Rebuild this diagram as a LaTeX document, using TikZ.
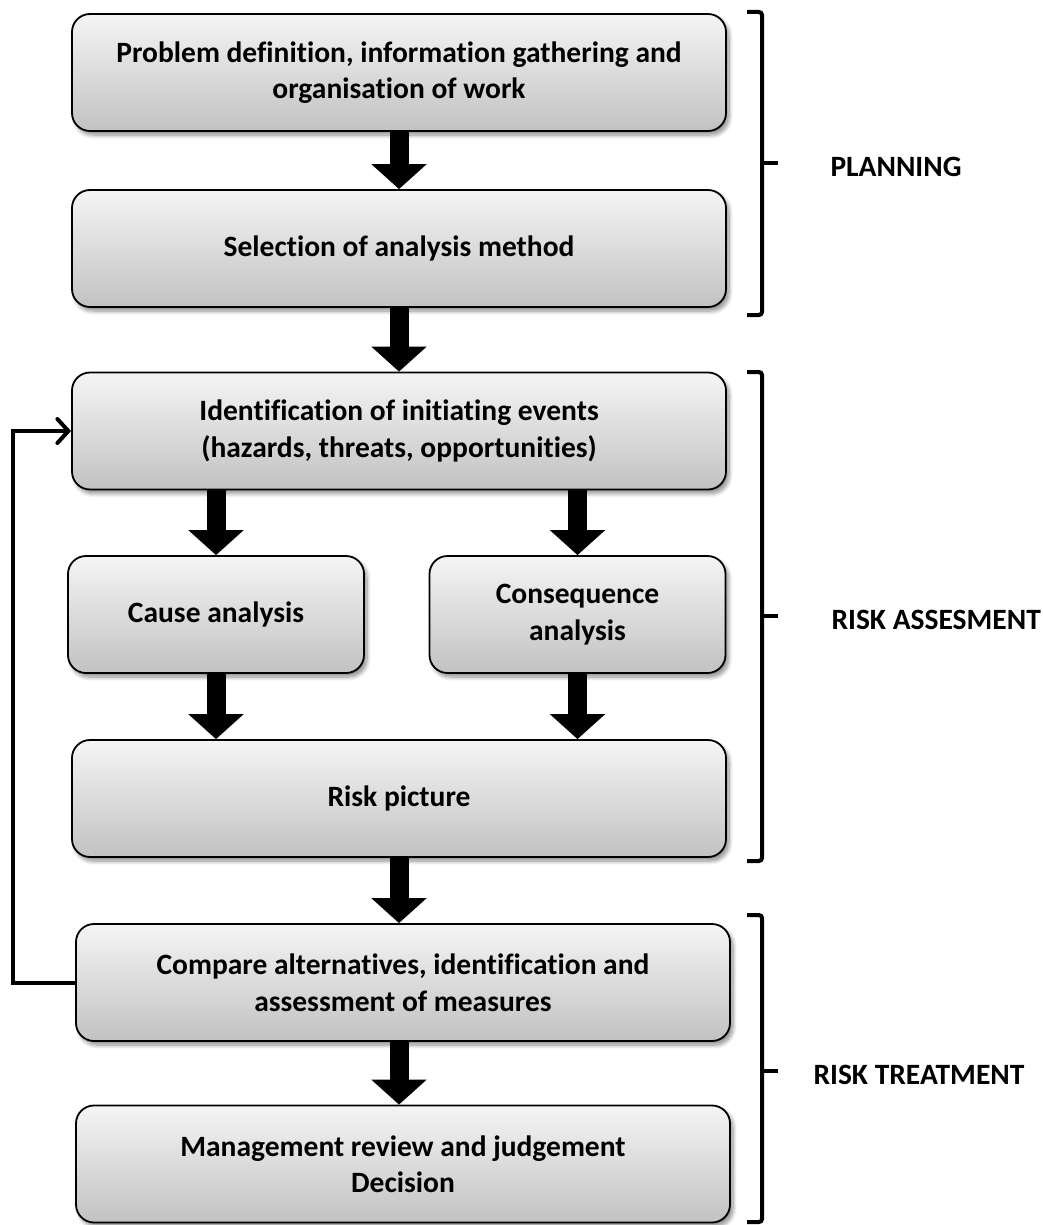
\documentclass[tikz,border=0pt]{standalone}
\usepackage{fontspec}
\setmainfont{Carlito}[Ligatures={NoCommon}]
\usetikzlibrary{arrows.meta,shadows.blur}

\tikzset{
  stage/.style={
    draw=black, line width=1.8pt, rounded corners=18pt,
    top color=gray!8, bottom color=black!24,
    minimum height=117pt, inner sep=4pt,
    align=center,
    font=\fontsize{29.5}{36.5}\selectfont\bfseries,
    blur shadow={shadow xshift=3pt, shadow yshift=-4pt,
                 shadow blur radius=4pt, shadow blur steps=8,
                 shadow opacity=45}
  },
  wide/.style={stage, minimum width=654pt},
  narrow/.style={stage, minimum width=296pt},
  flowarrow/.style={line width=19pt,
    -{Triangle[width=54pt,length=25pt]}},
  loopline/.style={line width=4pt,
    -{Straight Barb[length=11pt,width=24pt,line cap=round]}},
  bracket/.style={line width=4pt, rounded corners=3pt},
  phase/.style={anchor=west, font=\fontsize{29.5}{36}\selectfont\bfseries}
}

\begin{document}
\begin{tikzpicture}[x=1pt, y=-1pt]
\useasboundingbox (0,0) rectangle (1042,1225);

% process stages
\node[wide]   (prob)  at (399,  72.5) {Problem definition, information gathering and\\organisation of work};
\node[wide]   (sel)   at (399, 248.5) {Selection of analysis method};
\node[wide]   (ident) at (399, 431)   {Identification of initiating events\\(hazards, threats, opportunities)};
\node[narrow] (cause) at (216, 614.5) {Cause analysis};
\node[narrow] (cons)  at (577.5, 614.5) {Consequence\\analysis};
\node[wide]   (pic)   at (399, 798.5) {Risk picture};
\node[wide]   (comp)  at (403, 982.5) {Compare alternatives, identification and\\assessment of measures};
\node[wide]   (mgmt)  at (403, 1164)  {Management review and judgement\\Decision};

% block arrows between stages
\draw[flowarrow] (prob.south) -- (sel.north);
\draw[flowarrow] (sel.south) -- (ident.north);
\draw[flowarrow] (ident.south -| cause.north) -- (cause.north);
\draw[flowarrow] (ident.south -| cons.north) -- (cons.north);
\draw[flowarrow] (cause.south) -- (cause.south |- pic.north);
\draw[flowarrow] (cons.south) -- (cons.south |- pic.north);
\draw[flowarrow] (pic.south) -- (pic.south |- comp.north);
\draw[flowarrow] (comp.south -| pic.south) -- (pic.south |- mgmt.north);

% feedback loop
\draw[loopline] (comp.west) -- ++(-62,0) |- (ident.west);

% phase brackets
\draw[bracket] (747,12) -- (762,12) -- (762,315) -- (747,315);
\draw[bracket] (762,163) -- (778,163);
\draw[bracket] (747,372) -- (762,372) -- (762,861) -- (747,861);
\draw[bracket] (762,616) -- (778,616);
\draw[bracket] (747,915) -- (762,915) -- (762,1222) -- (747,1222);
\draw[bracket] (762,1071) -- (778,1071);

% phase labels
\node[phase] (plan)   at (827,167)  {PLANNING};
\node[phase] (assess) at (828,620)  {RISK ASSESMENT};
\node[phase] (treat)  at (810,1075) {RISK TREATMENT};
\end{tikzpicture}
\end{document}
